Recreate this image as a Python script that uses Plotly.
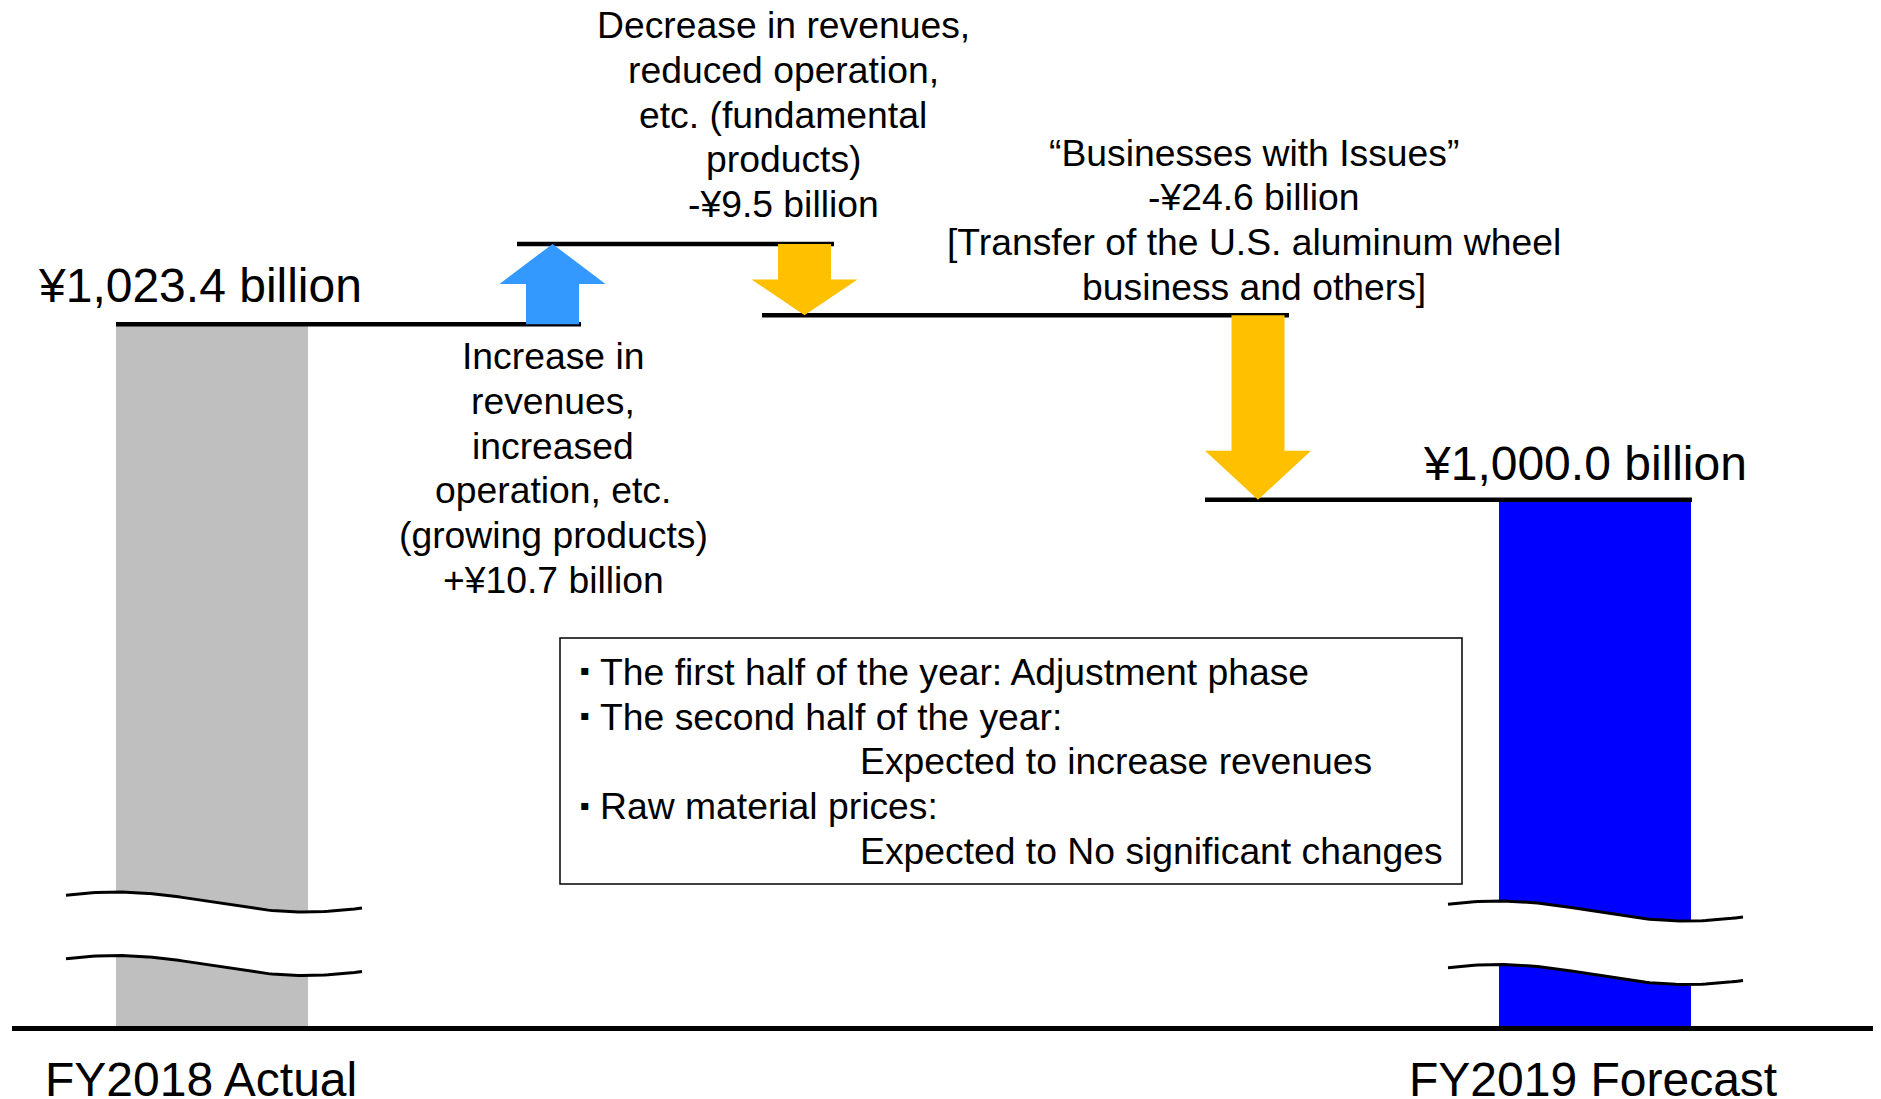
import numpy as np
import plotly.graph_objects as go

# ---------------- data ----------------
categories = ["FY2018 Actual", "FY2019 Forecast"]
totals = [1023.4, 1000.0]                      # ¥ billion
total_labels = ["¥1,023.4 billion", "¥1,000.0 billion"]
deltas = [10.7, -9.5, -24.6]                   # ¥ billion
delta_texts = [
    ["Increase in", "revenues,", "increased", "operation, etc.",
     "(growing products)", "+¥10.7 billion"],
    ["Decrease in revenues,", "reduced operation,", "etc. (fundamental",
     "products)", "-¥9.5 billion"],
    ["“Businesses with Issues”", "-¥24.6 billion",
     "[Transfer of the U.S. aluminum wheel", "business and others]"],
]
box_bullets = ["▪", "▪", "", "▪", ""]
box_lines = [
    "The first half of the year: Adjustment phase",
    "The second half of the year:",
    "Expected to increase revenues",
    "Raw material prices:",
    "Expected to No significant changes",
]

# ---------------- layout / style constants ----------------
# positions below are given in page pixels; the page body adds an 8 px offset
W, H = 1881, 1099
OFF = 8
PLOT_LEFT, PLOT_RIGHT = 12, 1889       # page px
PLOT_TOP, PLOT_BOTTOM = 8, 1026        # page px
PLOT_H = PLOT_BOTTOM - PLOT_TOP
Y_RANGE = [929.87, 1065.54]            # truncated value axis (break marks drawn)
UPP = (Y_RANGE[1] - Y_RANGE[0]) / PLOT_H   # value units per pixel

FONT = "Liberation Sans, Arial, sans-serif"
BIG, SMALL = 48, 37.3
LINE_DY = 44.8

BAR_X = [212, 1595]
BAR_W = 192
BAR_COLORS = ["#BFBFBF", "#0000FF"]
CAT_LABEL_X = [201, 1593]
CAT_LABEL_Y = 1079
ARROW_X = [552.5, 804.5, 1258]
ARROW_COLORS = ["#3399FF", "#FFC000", "#FFC000"]
SHAFT_HALF, HEAD_HALF, HEAD_MAX_PX = 26.5, 53, 49
LEVEL_SPANS = [(116, 581), (517, 834), (762, 1289), (1205, 1692)]
BREAK_PX = [(66, 362, [902, 965.5]), (1448, 1743, [911, 974.5])]
WAVE_AMP_PX = 10


def paper_y(py):
    return (PLOT_BOTTOM - py) / PLOT_H


def value_at(py):
    return Y_RANGE[0] + (PLOT_BOTTOM - py) * UPP


fig = go.Figure()

# total bars (start below the truncated axis, clipped by it)
fig.add_trace(go.Bar(x=BAR_X, y=totals, width=BAR_W,
                     marker=dict(color=BAR_COLORS, line=dict(width=0)),
                     showlegend=False, hoverinfo="skip"))

# axis-break marks
for x0, x1, mids in BREAK_PX:
    u = np.linspace(0, 1, 80)
    xs = x0 + (x1 - x0) * u
    curves = []
    for m in mids:
        ypx = m - WAVE_AMP_PX * np.cos(np.pi * (u - 0.17) / 0.64)
        curves.append(value_at(ypx))
    fig.add_trace(go.Scatter(x=np.concatenate([xs, xs[::-1]]),
                             y=np.concatenate([curves[0], curves[1][::-1]]),
                             fill="toself", fillcolor="white", mode="lines",
                             line=dict(width=0, color="white"),
                             showlegend=False, hoverinfo="skip"))
    for c in curves:
        fig.add_trace(go.Scatter(x=xs, y=c, mode="lines",
                                 line=dict(color="black", width=3),
                                 showlegend=False, hoverinfo="skip"))

# running levels
levels = [totals[0]]
for d in deltas:
    levels.append(levels[-1] + d)

shapes = []
for (xa, xb), lv in zip(LEVEL_SPANS, levels):
    shapes.append(dict(type="line", xref="x", yref="y", x0=xa, x1=xb,
                       y0=lv, y1=lv, line=dict(color="black", width=4.5)))

# arrows
for i, d in enumerate(deltas):
    a, b = levels[i], levels[i + 1]
    c = ARROW_X[i]
    s = 1 if b > a else -1
    head = min(0.5 * abs(b - a), HEAD_MAX_PX * UPP)
    yh = b - s * head
    path = (f"M {c-SHAFT_HALF},{a} L {c+SHAFT_HALF},{a} L {c+SHAFT_HALF},{yh} "
            f"L {c+HEAD_HALF},{yh} L {c},{b} L {c-HEAD_HALF},{yh} "
            f"L {c-SHAFT_HALF},{yh} Z")
    shapes.append(dict(type="path", xref="x", yref="y", path=path,
                       fillcolor=ARROW_COLORS[i], line=dict(width=0)))

# note box
shapes.append(dict(type="rect", xref="x", yref="paper", x0=560, x1=1462,
                   y0=paper_y(884), y1=paper_y(638),
                   line=dict(color="black", width=1.5), fillcolor="rgba(0,0,0,0)"))

annotations = []


def add_text(text, x, py, size, xanchor="center"):
    annotations.append(dict(text=text, x=x, y=paper_y(py), xref="x", yref="paper",
                            xanchor=xanchor, yanchor="middle", showarrow=False,
                            font=dict(family=FONT, size=size, color="black")))


# category labels
for cat, cx in zip(categories, CAT_LABEL_X):
    add_text(cat, cx, CAT_LABEL_Y, BIG)

# total labels
add_text(total_labels[0], 200, 285, BIG)
add_text(total_labels[1], 1585, 464, BIG)

# delta texts
DELTA_POS = [(553, 356), (783, 25), (1254, 152.5)]
for lines, (x, y0) in zip(delta_texts, DELTA_POS):
    for k, ln in enumerate(lines):
        add_text(ln, x, y0 + k * LINE_DY, SMALL)

# box text
for k, (bl, ln) in enumerate(zip(box_bullets, box_lines)):
    py = 672 + k * 44.7
    if bl:
        add_text(bl, 584.5, py - 1, 28)
        add_text(ln, 598, py, SMALL, xanchor="left")
    else:
        add_text(ln, 858, py, SMALL, xanchor="left")

fig.update_layout(
    width=W, height=H,
    margin=dict(l=PLOT_LEFT - OFF, r=max(0, W - (PLOT_RIGHT - OFF)),
                t=PLOT_TOP - OFF, b=H - (PLOT_BOTTOM - OFF), pad=0,
                autoexpand=False),
    paper_bgcolor="white", plot_bgcolor="white",
    shapes=shapes, annotations=annotations,
    bargap=0,
    xaxis=dict(range=[PLOT_LEFT, PLOT_RIGHT], showgrid=False, zeroline=False,
               showline=True, linecolor="black", linewidth=5,
               showticklabels=False, ticks="", automargin=False,
               fixedrange=True),
    yaxis=dict(range=Y_RANGE, visible=False, showgrid=False, zeroline=False,
               automargin=False, fixedrange=True),
    font=dict(family=FONT),
)

fig.write_html("out.html",
               post_script="document.documentElement.style.overflow='hidden';")
